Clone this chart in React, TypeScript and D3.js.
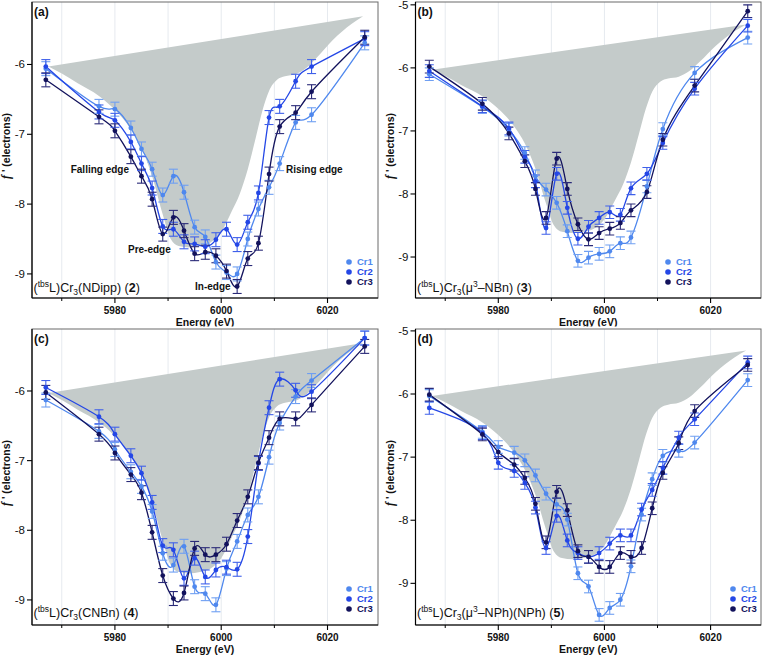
import React from 'react';
import * as d3 from 'd3';

// ---------- DATA ----------
const energyMain = [5967, 5977, 5980, 5983, 5985, 5987, 5989, 5991, 5993, 5995, 5997, 5999, 6001, 6003, 6005, 6007, 6009, 6011, 6014, 6017, 6027];
const energyB = [5967, 5977, 5982, 5985, 5987, 5989, 5991, 5993, 5995, 5997, 5999, 6001, 6003, 6005, 6008, 6011, 6017, 6027];

const cr1A = [-6.06, -6.6, -6.64, -6.91, -7.21, -7.5, -7.87, -7.6, -7.83, -8.33, -8.47, -8.83, -8.98, -9.0, -8.5, -8.07, -7.76, -7.42, -6.83, -6.72, -5.69];
const cr2A = [-6.03, -6.68, -6.8, -7.11, -7.42, -7.77, -8.32, -8.36, -8.54, -8.57, -8.61, -8.51, -8.36, -8.58, -8.26, -7.84, -6.76, -6.6, -6.24, -6.03, -5.63];
const cr3A = [-6.22, -6.75, -6.95, -7.32, -7.6, -7.93, -8.43, -8.19, -8.38, -8.71, -8.69, -8.74, -8.96, -9.18, -8.78, -8.56, -7.57, -6.89, -6.69, -6.39, -5.61];

const cr1B = [-6.1, -6.62, -6.98, -7.35, -7.72, -7.93, -8.14, -8.59, -9.06, -9.01, -8.95, -8.91, -8.78, -8.69, -7.88, -6.97, -6.08, -5.52];
const cr2B = [-6.05, -6.61, -6.96, -7.41, -7.8, -8.54, -7.68, -8.22, -8.71, -8.52, -8.38, -8.29, -8.33, -7.91, -7.68, -7.19, -6.33, -5.33];
const cr3B = [-5.98, -6.57, -7.04, -7.48, -7.92, -8.38, -7.44, -7.92, -8.48, -8.72, -8.62, -8.55, -8.46, -8.26, -7.97, -7.14, -6.28, -5.1];

const cr1C = [-6.13, -6.58, -6.84, -7.16, -7.37, -7.73, -8.33, -8.5, -8.23, -8.81, -8.91, -9.07, -8.55, -8.16, -7.78, -7.52, -6.95, -6.46, -6.08, -5.85, -5.24];
const cr2C = [-5.95, -6.37, -6.62, -6.93, -7.18, -7.6, -8.22, -8.28, -8.69, -8.4, -8.67, -8.57, -8.53, -8.56, -8.09, -7.04, -6.24, -5.83, -5.99, -6.01, -5.24];
const cr3C = [-6.02, -6.62, -6.89, -7.2, -7.46, -8.03, -8.65, -8.98, -8.9, -8.26, -8.35, -8.35, -8.2, -7.86, -7.52, -7.03, -6.67, -6.4, -6.4, -6.2, -5.36];

const cr1D = [-6.03, -6.6, -6.84, -6.93, -7.05, -7.29, -7.58, -7.75, -7.99, -8.84, -9.05, -9.5, -9.39, -9.26, -8.73, -7.91, -7.35, -6.98, -6.9, -6.77, -5.78];
const cr2D = [-6.22, -6.62, -7.09, -7.22, -7.41, -7.8, -8.44, -7.93, -8.32, -8.52, -8.58, -8.52, -8.37, -8.24, -8.24, -7.83, -7.52, -7.17, -6.69, -6.4, -5.5];
const cr3D = [-6.01, -6.64, -6.92, -7.12, -7.33, -7.74, -8.35, -7.55, -7.84, -8.49, -8.58, -8.74, -8.74, -8.52, -8.58, -8.44, -7.81, -7.25, -6.78, -6.27, -5.54];

const errorBar = 0.1;

// reference (theoretical) f' envelope, shaded
const refEnergy = [5967.5, 5970, 5973, 5977, 5980, 5983, 5985, 5987, 5989, 5990.5, 5992, 5994, 5996, 5998, 6000, 6002, 6003.5, 6005, 6006.5, 6007.8, 6009, 6010.5, 6012, 6014, 6016, 6018, 6021, 6024.5, 6026.7];
const refF = [-6.03, -6.13, -6.27, -6.45, -6.65, -6.93, -7.2, -7.6, -8.15, -8.5, -8.6, -8.62, -8.6, -8.55, -8.4, -8.1, -7.85, -7.5, -7.05, -6.65, -6.38, -6.22, -6.17, -6.14, -6.05, -5.9, -5.65, -5.42, -5.31];

const seriesNames = ['Cr1', 'Cr2', 'Cr3'];
const xMajorTicks = [5980, 6000, 6020];
const xMinorTicks = [5970, 5990, 6010];
const gridTicks = [5970, 5980, 5990, 6000, 6010, 6020];
const yTicksAll = [-9, -8, -7, -6, -5];
const panelTags = ['(a)', '(b)', '(c)', '(d)'];
const compounds = [
  [['(', 'n'], ['tbs', 'sup'], ['L)Cr', 'n'], ['3', 'sub'], ['(NDipp) (', 'n'], ['2', 'b'], [')', 'n']],
  [['(', 'n'], ['tbs', 'sup'], ['L)Cr', 'n'], ['3', 'sub'], ['(\u03bc', 'n'], ['3', 'sup'], ['\u2013NBn) (', 'n'], ['3', 'b'], [')', 'n']],
  [['(', 'n'], ['tbs', 'sup'], ['L)Cr', 'n'], ['3', 'sub'], ['(CNBn) (', 'n'], ['4', 'b'], [')', 'n']],
  [['(', 'n'], ['tbs', 'sup'], ['L)Cr', 'n'], ['3', 'sub'], ['(\u03bc', 'n'], ['3', 'sup'], ['\u2013NPh)(NPh) (', 'n'], ['5', 'b'], [')', 'n']],
];
const annotationTexts = ['Falling edge', 'Rising edge', 'Pre-edge', 'In-edge'];

// ---------- LAYOUT / STYLE ----------
const W = 767, H = 655;
const FONT = '"Liberation Sans", Arial, Helvetica, sans-serif';
const colors = ['#4f88ee', '#2447e6', '#12125c'];
const barColors = ['#6f9ff2', '#3f60ea', '#2a2a78'];
const xDomain: [number, number] = [5964.4, 6029.5];

const panels = [
  { x0: 32, x1: 378, y0: 2, y1: 298, yDomain: [-9.345, -5.105], energy: energyMain, vals: [cr1A, cr2A, cr3A], legendX: 349, legendY: 262, labelY: 292, xLabelY: 314, titleY: 326 },
  { x0: 415.5, x1: 761, y0: 2, y1: 298, yDomain: [-9.65, -4.955], energy: energyB, vals: [cr1B, cr2B, cr3B], legendX: 668, legendY: 262, labelY: 292, xLabelY: 314, titleY: 326 },
  { x0: 32, x1: 378, y0: 329, y1: 625, yDomain: [-9.36, -5.11], energy: energyMain, vals: [cr1C, cr2C, cr3C], legendX: 349, legendY: 589, labelY: 617, xLabelY: 640.5, titleY: 652.5 },
  { x0: 415.5, x1: 761, y0: 329, y1: 625, yDomain: [-9.66, -4.97], energy: energyMain, vals: [cr1D, cr2D, cr3D], legendX: 733, legendY: 589, labelY: 617, xLabelY: 640.5, titleY: 652.5 },
];
const annotationPos = [[70.7, 173], [286, 173], [128, 253], [195, 290]];

function RichText({ parts, x, y, size }: { parts: any[]; x: number; y: number; size: number }) {
  const out: any[] = [];
  let shift = 0;
  parts.forEach(([t, k]: [string, string], i: number) => {
    let target = 0;
    if (k === 'sup') target = -size * 0.38;
    if (k === 'sub') target = size * 0.25;
    const dy = target - shift;
    shift = target;
    out.push(
      <tspan key={i} dy={dy} fontSize={k === 'sup' || k === 'sub' ? size * 0.68 : size} fontWeight={k === 'b' ? 'bold' : 'normal'}>
        {t}
      </tspan>
    );
  });
  return (
    <text x={x} y={y} fontFamily={FONT} fontSize={size} fill="#111">
      {out}
    </text>
  );
}

function Panel({ p, idx }: { p: any; idx: number }) {
  const x = d3.scaleLinear().domain(xDomain).range([p.x0, p.x1]);
  const y = d3.scaleLinear().domain(p.yDomain).range([p.y1, p.y0]);
  const clipId = 'clip' + idx;
  const refPts: [number, number][] = refEnergy.map((e, i) => [e, refF[i]]);
  const refLine = d3.line<[number, number]>().x(d => x(d[0])).y(d => y(d[1])).curve(d3.curveMonotoneX);
  const refPath = (refLine(refPts) || '') + 'Z';
  const line = d3.line<[number, number]>().x(d => x(d[0])).y(d => y(d[1])).curve(d3.curveNatural);
  const yTicks = yTicksAll.filter(t => t >= p.yDomain[0] && t <= p.yDomain[1]);
  const cx = (p.x0 + p.x1) / 2;
  const cy = (p.y0 + p.y1) / 2 - 4;
  const capW = 4.5;
  return (
    <g>
      {idx >= 2 && <rect x={idx === 2 ? 0 : 384} y={326.5} width={idx === 2 ? 384 : 383} height={H - 326.5} fill="#fff" />}
      <defs>
        <clipPath id={clipId}>
          <rect x={p.x0} y={p.y0} width={p.x1 - p.x0} height={p.y1 - p.y0} />
        </clipPath>
      </defs>
      <g clipPath={`url(#${clipId})`}>
        {gridTicks.map(t => (
          <line key={t} x1={x(t)} x2={x(t)} y1={p.y0} y2={p.y1} stroke="#e6eaef" strokeWidth={1} />
        ))}
        <path d={refPath} fill="#c4cbca" stroke="none" />
        {p.vals.map((vals: number[], si: number) => (
          <path key={'l' + si} d={line(p.energy.map((e: number, i: number) => [e, vals[i]])) || ''} fill="none" stroke={colors[si]} strokeWidth={1.3} />
        ))}
        {p.vals.map((vals: number[], si: number) => (
          <g key={'e' + si} stroke={barColors[si]} strokeWidth={1.1}>
            {p.energy.map((e: number, i: number) => {
              const px = x(e);
              const yt = y(vals[i] + errorBar);
              const yb = y(vals[i] - errorBar);
              return (
                <g key={i}>
                  <line x1={px} x2={px} y1={yt} y2={yb} />
                  <line x1={px - capW} x2={px + capW} y1={yt} y2={yt} />
                  <line x1={px - capW} x2={px + capW} y1={yb} y2={yb} />
                </g>
              );
            })}
          </g>
        ))}
        {p.vals.map((vals: number[], si: number) => (
          <g key={'m' + si} fill={colors[si]}>
            {p.energy.map((e: number, i: number) => (
              <circle key={i} cx={x(e)} cy={y(vals[i])} r={2.4} />
            ))}
          </g>
        ))}
      </g>
      {/* frame */}
      <rect x={p.x0} y={p.y0} width={p.x1 - p.x0} height={p.y1 - p.y0} fill="none" stroke="#6a6a6a" strokeWidth={1} />
      <line x1={p.x0} x2={p.x0} y1={p.y0} y2={p.y1} stroke="#000" strokeWidth={1.2} />
      <line x1={p.x0} x2={p.x1} y1={p.y1} y2={p.y1} stroke="#000" strokeWidth={1.2} />
      {/* x ticks */}
      {xMajorTicks.map(t => (
        <g key={t}>
          <line x1={x(t)} x2={x(t)} y1={p.y1} y2={p.y1 + 5} stroke="#000" strokeWidth={1.1} />
          <text x={x(t)} y={p.xLabelY} textAnchor="middle" fontFamily={FONT} fontWeight="bold" fontSize={10} fill="#111">
            {t}
          </text>
        </g>
      ))}
      {xMinorTicks.map(t => (
        <line key={t} x1={x(t)} x2={x(t)} y1={p.y1} y2={p.y1 + 3} stroke="#000" strokeWidth={1} />
      ))}
      <text x={cx} y={p.titleY} textAnchor="middle" fontFamily={FONT} fontWeight="bold" fontSize={10.5} fill="#111">
        Energy (eV)
      </text>
      {/* y ticks */}
      {yTicks.map(t => (
        <g key={t}>
          <line x1={p.x0 - 5} x2={p.x0} y1={y(t)} y2={y(t)} stroke="#000" strokeWidth={1.1} />
          <text x={p.x0 - 7} y={y(t) + 4} textAnchor="end" fontFamily={FONT} fontSize={11.5} fill="#111">
            {t}
          </text>
        </g>
      ))}
      <text transform={`translate(${p.x0 - 22},${cy}) rotate(-90)`} textAnchor="middle" fontFamily={FONT} fontWeight="bold" fontSize={10.5} fill="#111">
        <tspan fontFamily='"Liberation Serif", "DejaVu Serif", serif' fontStyle="italic" fontSize={12}>f</tspan>
        <tspan> ' (electrons)</tspan>
      </text>
      {/* panel tag */}
      <text x={p.x0 + 2} y={p.y0 + 14} fontFamily={FONT} fontWeight="bold" fontSize={12} fill="#111">
        {panelTags[idx]}
      </text>
      {/* compound label */}
      <RichText parts={compounds[idx]} x={p.x0 + 1.5} y={p.labelY} size={12.5} />
      {/* legend */}
      {seriesNames.map((s, si) => (
        <g key={s}>
          <circle cx={p.legendX} cy={p.legendY + si * 10} r={2.8} fill={colors[si]} />
          <text x={p.legendX + 8} y={p.legendY + si * 10 + 3.3} fontFamily={FONT} fontWeight="bold" fontSize={9.5} fill={colors[si]}>
            {s}
          </text>
        </g>
      ))}
      {idx === 0 &&
        annotationTexts.map((t, i) => (
          <text key={t} x={annotationPos[i][0]} y={annotationPos[i][1]} fontFamily={FONT} fontWeight="bold" fontSize={10} fill="#111">
            {t}
          </text>
        ))}
    </g>
  );
}

export default function App() {
  return (
    <svg width={W} height={H} style={{ position: 'absolute', left: 0, top: 0, display: 'block', background: '#fff' }}>
      <rect x={0} y={0} width={W} height={H} fill="#fff" />
      {panels.map((p, i) => (
        <Panel key={i} p={p} idx={i} />
      ))}
    </svg>
  );
}
